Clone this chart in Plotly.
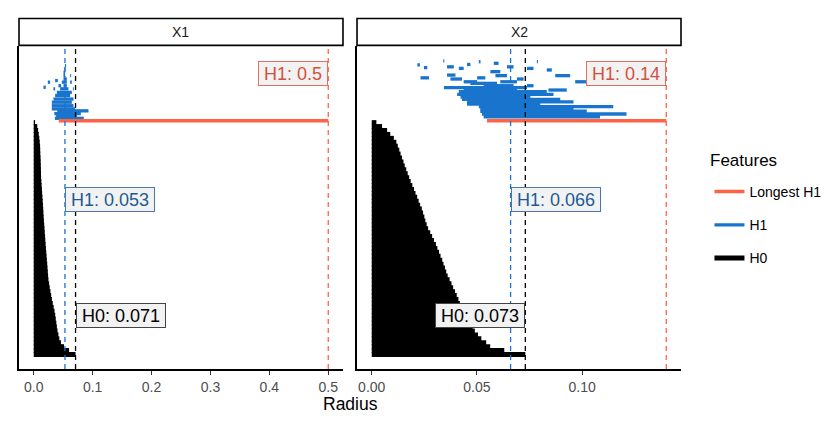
import plotly.graph_objects as go

# ---------------- data ----------------
panels = ["X1", "X2"]

# H0 bar deaths (birth = 0), listed from the top bar of the barcode downwards
h0_death_x1 = [0.0023, 0.0060, 0.0075, 0.0086, 0.0095, 0.0102, 0.0108, 0.0110, 0.0112, 0.0116,
               0.0118, 0.0120, 0.0122, 0.0124, 0.0125, 0.0130, 0.0134, 0.0139, 0.0143, 0.0148,
               0.0152, 0.0157, 0.0161, 0.0164, 0.0169, 0.0173, 0.0178, 0.0183, 0.0187, 0.0193,
               0.0197, 0.0202, 0.0207, 0.0213, 0.0218, 0.0223, 0.0229, 0.0234, 0.0239, 0.0244,
               0.0250, 0.0261, 0.0272, 0.0284, 0.0296, 0.0308, 0.0323, 0.0338, 0.0353, 0.0365,
               0.0374, 0.0384, 0.0393, 0.0404, 0.0419, 0.0435, 0.0462, 0.0514, 0.0600, 0.0710]
h0_death_x2 = [0.0022, 0.0049, 0.0073, 0.0088, 0.0105, 0.0117, 0.0124, 0.0131, 0.0137, 0.0144,
               0.0151, 0.0157, 0.0164, 0.0171, 0.0178, 0.0185, 0.0193, 0.0201, 0.0208, 0.0216,
               0.0223, 0.0230, 0.0238, 0.0244, 0.0250, 0.0255, 0.0261, 0.0268, 0.0278, 0.0287,
               0.0296, 0.0305, 0.0312, 0.0320, 0.0327, 0.0335, 0.0341, 0.0348, 0.0354, 0.0361,
               0.0370, 0.0379, 0.0387, 0.0396, 0.0404, 0.0412, 0.0419, 0.0427, 0.0436, 0.0448,
               0.0459, 0.0470, 0.0479, 0.0490, 0.0505, 0.0521, 0.0544, 0.0563, 0.0630, 0.0730]

# H1 bars: bar index (position in barcode), birth, death
h1_index_x1 = [61.1, 61.8, 62.3, 63.0, 63.5, 64.3, 65.2, 66.0, 66.9, 67.7, 68.6, 68.6, 68.6,
               69.0, 69.4, 69.4, 70.3, 70.3, 70.3, 70.7, 71.1, 71.95, 71.95, 72.8, 73.65, 74.5]
h1_birth_x1 = [0.0360, 0.0380, 0.0350, 0.0400, 0.0307, 0.0307, 0.0307, 0.0335, 0.0363, 0.0392,
               0.0335, 0.0448, 0.0665, 0.0165, 0.0420, 0.0505, 0.0239, 0.0477, 0.0618, 0.0363,
               0.0505, 0.0505, 0.0618, 0.0505, 0.0520, 0.0530]
h1_death_x1 = [0.0850, 0.0732, 0.0800, 0.0930, 0.0703, 0.0675, 0.0647, 0.0675, 0.0618, 0.0647,
               0.0363, 0.0590, 0.0680, 0.0205, 0.0465, 0.0562, 0.0278, 0.0562, 0.0647, 0.0409,
               0.0562, 0.0533, 0.0635, 0.0533, 0.0540, 0.0550]

h1_index_x2 = [61.5, 62.2, 62.9, 63.5, 64.1, 64.7, 65.3, 65.9, 66.5, 67.2, 67.9, 68.3, 68.3,
               68.9, 69.4, 69.4, 70.0, 70.4, 70.4, 70.4, 71.1, 71.1, 71.4, 71.4, 71.96, 71.96,
               72.1, 72.97, 73.4, 73.8, 73.8, 74.0, 74.2, 74.2, 74.7, 74.8, 75.1, 75.5, 75.5, 75.7]
h1_birth_x2 = [0.0532, 0.0524, 0.0516, 0.0516, 0.0509, 0.0453, 0.0453, 0.0429, 0.0422, 0.0406,
               0.0414, 0.0437, 0.0840, 0.0343, 0.0532, 0.0738, 0.0469, 0.0437, 0.0611, 0.0967,
               0.0374, 0.0690, 0.0232, 0.0501, 0.0872, 0.0588, 0.0358, 0.0564, 0.0832, 0.0414,
               0.0738, 0.0248, 0.0358, 0.0643, 0.0217, 0.0453, 0.0580, 0.0509, 0.0785, 0.0340]
h1_death_x2 = [0.1085, 0.1211, 0.1022, 0.0959, 0.1148, 0.0801, 0.0959, 0.0896, 0.0754, 0.0864,
               0.0832, 0.0690, 0.0927, 0.0738, 0.0674, 0.0769, 0.0596, 0.0501, 0.0690, 0.1022,
               0.0429, 0.0722, 0.0272, 0.0540, 0.0943, 0.0643, 0.0398, 0.0611, 0.0856, 0.0437,
               0.0769, 0.0264, 0.0390, 0.0674, 0.0229, 0.0469, 0.0603, 0.0517, 0.0790, 0.0345]

# Longest H1 bar: index, birth, death
longest_index = [60.5, 60.5]
longest_birth = [0.0425, 0.0548]
longest_death = [0.50, 0.14]

# thresholds shown as dashed lines / labels
h1_threshold = [0.053, 0.066]
h0_threshold = [0.071, 0.073]

x_ranges = [[-0.025, 0.525], [-0.007, 0.147]]
x_ticks = [[0.0, 0.1, 0.2, 0.3, 0.4, 0.5], [0.0, 0.05, 0.10]]
x_tickformat = [".1f", ".2f"]
y_range = [-2.68, 79.5]

# ---------------- styling ----------------
RED = "#FF6347"
BLUE = "#1874CD"
FONT = "Liberation Sans, Arial, Helvetica, sans-serif"


def segs(idx, b, d):
    xs, ys = [], []
    for i, s, e in zip(idx, b, d):
        xs += [s, e, None]
        ys += [i, i, None]
    return xs, ys


fig = go.Figure()
h0_lists = [h0_death_x1, h0_death_x2]
h1_lists = [(h1_index_x1, h1_birth_x1, h1_death_x1), (h1_index_x2, h1_birth_x2, h1_death_x2)]

for p in range(2):
    xa = "x" if p == 0 else "x2"
    ya = "y" if p == 0 else "y2"
    deaths = h0_lists[p]
    n = len(deaths)
    idx0 = [n - k for k in range(n)]
    xs, ys = segs(idx0, [0.0] * n, deaths)
    fig.add_trace(go.Scatter(x=xs, y=ys, mode="lines", line=dict(color="black", width=5),
                             name="H0", legendgroup="H0", legendrank=3, showlegend=(p == 0),
                             xaxis=xa, yaxis=ya, hoverinfo="skip"))
    i1, b1, d1 = h1_lists[p]
    xs, ys = segs(i1, b1, d1)
    fig.add_trace(go.Scatter(x=xs, y=ys, mode="lines", line=dict(color=BLUE, width=3.3),
                             name="H1", legendgroup="H1", legendrank=2, showlegend=(p == 0),
                             xaxis=xa, yaxis=ya, hoverinfo="skip"))
    xs, ys = segs([longest_index[p]], [longest_birth[p]], [longest_death[p]])
    fig.add_trace(go.Scatter(x=xs, y=ys, mode="lines", line=dict(color=RED, width=3.5),
                             name="Longest H1", legendgroup="L", legendrank=1, showlegend=(p == 0),
                             xaxis=xa, yaxis=ya, hoverinfo="skip"))

shapes = []
annotations = []
label_y = [0.916, 0.526, 0.167]
h0_anchor = ["left", "right"]


def label(text, x, y, xa, ya, anchor, border, color):
    return dict(text=text, x=x, y=y, xref=xa, yref=ya + " domain", showarrow=False,
                xanchor=anchor, yanchor="middle", bgcolor="#F2F2F2", bordercolor=border,
                borderwidth=1, borderpad=2, width=10 * len(text) - 6, height=19,
                font=dict(size=18, color=color, family=FONT))


for p in range(2):
    xa = "x" if p == 0 else "x2"
    ya = "y" if p == 0 else "y2"
    for val, col in [(h1_threshold[p], BLUE), (h0_threshold[p], "black"), (longest_death[p], RED)]:
        shapes.append(dict(type="line", xref=xa, yref=ya + " domain", x0=val, x1=val, y0=0, y1=1,
                           line=dict(color=col, width=1.3, dash="5px,4px"), layer="above"))
    # strip
    shapes.append(dict(type="rect", xref=xa + " domain", yref="paper", x0=0, x1=1,
                       y0=1.002, y1=1.085, line=dict(color="black", width=1.6),
                       fillcolor="white", layer="above"))
    annotations.append(dict(text=panels[p], xref=xa + " domain", yref="paper", x=0.5, y=1.0433,
                            showarrow=False, font=dict(size=14, color="#1A1A1A", family=FONT),
                            xanchor="center", yanchor="middle"))
    annotations.append(label(f"H1: {longest_death[p]:g}", longest_death[p], label_y[0], xa, ya,
                             "right", "#E2705F", "#D4503E"))
    annotations.append(label(f"H1: {h1_threshold[p]:g}", h1_threshold[p], label_y[1], xa, ya,
                             "left", "#4A78AE", "#1D5A96"))
    annotations.append(label(f"H0: {h0_threshold[p]:g}", h0_threshold[p], label_y[2], xa, ya,
                             h0_anchor[p], "#444444", "black"))

annotations.append(dict(text="Radius", xref="paper", yref="paper", x=0.5, y=-0.108,
                        showarrow=False, xanchor="center", yanchor="middle",
                        font=dict(size=17.5, color="black", family=FONT)))
annotations.append(dict(text="Features", xref="paper", yref="paper", x=1.0408, y=0.647,
                        showarrow=False, xanchor="left", yanchor="middle",
                        font=dict(size=17, color="black", family=FONT)))

axis_common = dict(showgrid=False, zeroline=False, showline=True, linecolor="black", linewidth=1.6)
fig.update_layout(
    width=830, height=438,
    margin=dict(l=19, r=149, t=46, b=69, autoexpand=False),
    paper_bgcolor="white", plot_bgcolor="white",
    font=dict(family=FONT),
    shapes=shapes, annotations=annotations,
    xaxis=dict(axis_common, domain=[0, 0.4894], range=x_ranges[0], tickvals=x_ticks[0],
               tickformat=x_tickformat[0], ticks="outside", ticklen=4.5, tickwidth=1.3,
               tickcolor="#333333", tickfont=dict(size=14, color="#4D4D4D")),
    xaxis2=dict(axis_common, domain=[0.5106, 1], range=x_ranges[1], tickvals=x_ticks[1],
                tickformat=x_tickformat[1], ticks="outside", ticklen=4.5, tickwidth=1.3,
                tickcolor="#333333", tickfont=dict(size=14, color="#4D4D4D")),
    yaxis=dict(axis_common, range=y_range, showticklabels=False, ticks=""),
    yaxis2=dict(axis_common, range=y_range, showticklabels=False, ticks="", anchor="x2"),
    legend=dict(x=1.043, y=0.5975, xanchor="left", yanchor="top",
                font=dict(size=14, color="black"), traceorder="grouped", tracegroupgap=12,
                bgcolor="rgba(0,0,0,0)"),
    showlegend=True,
)

fig.write_html("out.html", config={"displayModeBar": False},
               post_script="document.body.style.margin='0px';")
